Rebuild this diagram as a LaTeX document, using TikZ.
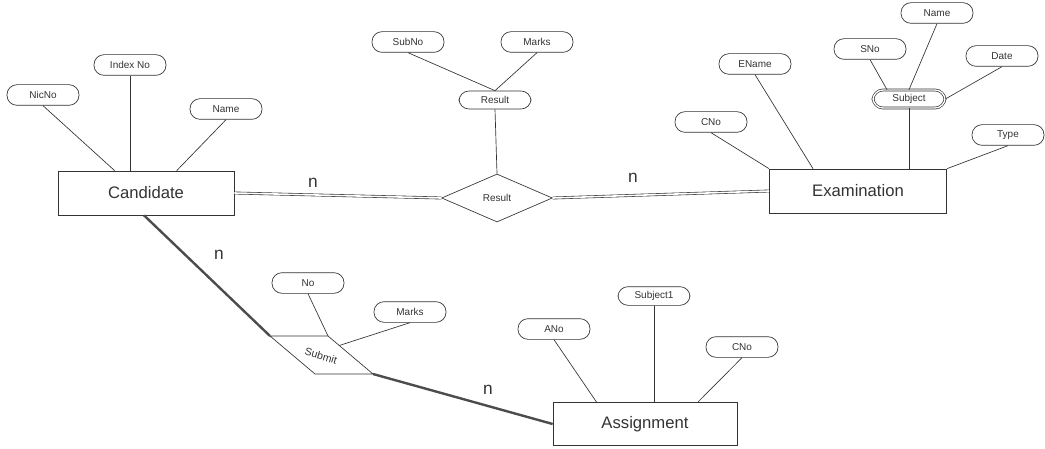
\documentclass[tikz,border=0pt]{standalone}
\usepackage{fontspec}
\setmainfont{Liberation Sans}
\usetikzlibrary{shapes.geometric,calc}
\begin{document}
\begin{tikzpicture}[x=0.75pt,y=-0.75pt,line width=0.5pt,draw=black!80,text=black!80,
    ent/.style={draw,minimum width=132pt,minimum height=33pt,inner sep=0pt,font=\fontsize{12.5}{14}\selectfont},
    attr/.style={draw,rounded corners=7.5pt,minimum width=54pt,minimum height=15.5pt,inner sep=0pt,font=\fontsize{7.5}{9}\selectfont},
    rel/.style={draw,diamond,aspect=2.3,minimum width=83pt,minimum height=36pt,inner sep=0pt,font=\fontsize{7.5}{9}\selectfont},
    dbl/.style={double,double distance=1.2pt,line width=0.45pt},
    thk/.style={line width=1.8pt,black!70},
    card/.style={font=\fontsize{13}{15}\selectfont}]
\useasboundingbox (0,0) rectangle (1045,449);
\node[ent] (cand) at (146,193) {Candidate};
\node[ent,minimum width=133pt] (exa) at (858,191) {Examination};
\node[ent,minimum width=138pt,minimum height=32pt] (asg) at (645,424) {Assignment};
\node[rel] (res) at (497,198) {Result};
\node[attr] (nic) at (43,95) {NicNo};
\node[attr] (idx) at (130,65) {Index No};
\node[attr] (nam) at (226,109) {Name};
\node[attr] (subno) at (408,42) {SubNo};
\node[attr] (mrk) at (537,42) {Marks};
\node[attr,minimum height=13.5pt] (resa) at (495,100) {Result};
\node[attr] (cno) at (711,122) {CNo};
\node[attr] (ename) at (755,64) {EName};
\node[attr] (sno) at (870,49) {SNo};
\node[attr] (sname) at (937,13) {Name};
\node[attr] (date) at (1002,56) {Date};
\node[attr,minimum height=13.5pt,double,double distance=1pt] (subj) at (909,99) {Subject};
\node[attr] (type) at (1008,135) {Type};
\node[attr] (no) at (308,283) {No};
\node[attr] (smrk) at (410,312) {Marks};
\node[attr] (ano) at (554,329) {ANo};
\node[attr,minimum height=14pt] (subj1) at (654,296) {Subject1};
\node[attr] (acno) at (742,347) {CNo};
\coordinate (sa) at (270,336);
\coordinate (sb) at (328,336);
\coordinate (sc) at (373,374);
\coordinate (sd) at (315,374);
\draw (sa) -- (sb) -- (sc) -- (sd) -- cycle;
\node[rotate=-17,font=\fontsize{8}{9}\selectfont] (sub) at (321,356) {Submit};
\draw (nic.south) -- ($(cand.north west)+(57,0)$);
\draw (idx.south) -- (idx.south |- cand.north);
\draw (nam.south) -- ($(cand.north west)+(119,0)$);
\draw (subno.south) -- (resa.north);
\draw (mrk.south) -- (resa.north);
\draw (resa.south) -- (res.north);
\draw (cno.south) -- (exa.north west);
\draw (ename.south) -- ($(exa.north west)+(44,0)$);
\draw (subj.south) -- (subj.south |- exa.north);
\draw (type.south) -- (exa.north east);
\draw (sno.south) -- ($(subj.north)+(-22,0)$);
\draw (sname.south) -- (subj.north);
\draw (date.south) -- (subj.east);
\draw (no.south) -- (sb);
\draw (smrk.south) -- ($(sb)!0.25!(sc)$);
\draw (ano.south) -- ($(asg.north west)+(44,0)$);
\draw (subj1.south) -- (subj1.south |- asg.north);
\draw (acno.south) -- ($(asg.north west)+(145,0)$);
\draw[dbl] (cand.east) -- (res.west);
\draw[dbl] (res.east) -- (exa.west);
\draw[thk] ($(cand.south)+(-2,0)$) -- (sa);
\draw[thk] (sc) -- (asg.west);
\node[card] (n1) at (313,183) {n};
\node[card] (n2) at (219,255) {n};
\node[card] (n3) at (633,178) {n};
\node[card] (n4) at (488,390) {n};
\end{tikzpicture}
\end{document}
